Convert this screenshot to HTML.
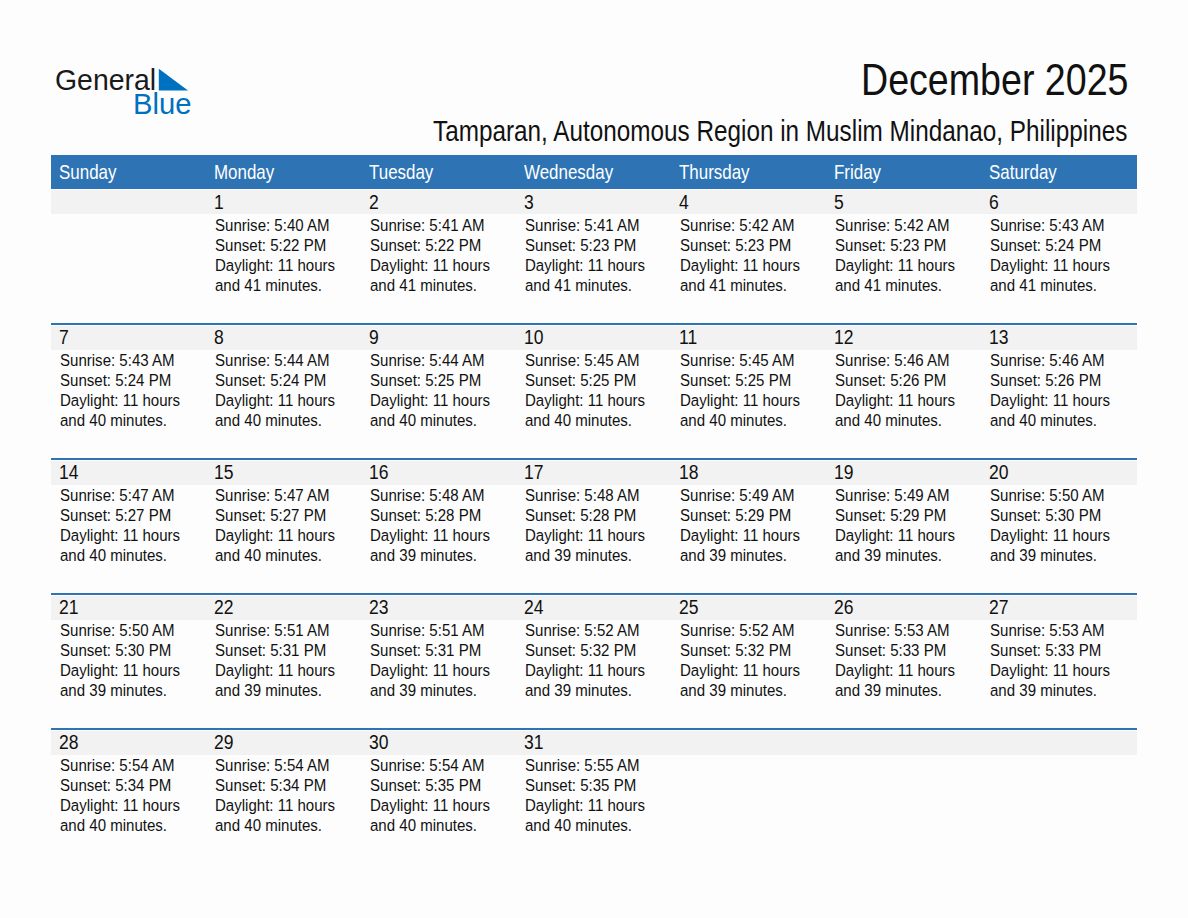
<!DOCTYPE html>
<html><head><meta charset="utf-8"><style>
html,body{margin:0;padding:0;}
body{width:1188px;height:918px;position:relative;overflow:hidden;background:#fdfdfd;font-family:"Liberation Sans",sans-serif;color:#111;}
.a{position:absolute;white-space:nowrap;line-height:1;transform-origin:0 0;}
.hd{font-size:20.3px;color:#fff;transform:scaleX(0.835);}
.num{font-size:19.5px;transform:scaleX(0.898);}
.tx{font-size:16.3px;transform:scaleX(0.9237);}
.r{position:absolute;}
</style></head><body>

<div class="a" style="left:55.25px;top:65.4px;font-size:29.5px;color:#1a1a1a;transform:scaleX(0.9636)">General</div>
<div class="a" style="left:132.9px;top:88.6px;font-size:29.5px;color:#0070c0;transform:scaleX(0.99)">Blue</div>
<svg class="r" style="left:0;top:0" width="1188" height="200"><polygon points="158.8,68.8 158.8,90.4 188,90.4" fill="#0070c0"/></svg>
<div class="a" style="left:861.1px;top:59.15549999999999px;font-size:43.5px;transform:scaleX(0.8642505747126435)">December 2025</div>
<div class="a" style="left:433.3px;top:116.60640000000001px;font-size:28.8px;transform:scaleX(0.8438888888888888)">Tamparan, Autonomous Region in Muslim Mindanao, Philippines</div>
<div class="r" style="left:51px;top:155px;width:1086px;height:34px;background:#2e74b5"></div>
<div class="a hd" style="left:59.20px;top:161.8px">Sunday</div>
<div class="a hd" style="left:214.20px;top:161.8px">Monday</div>
<div class="a hd" style="left:369.20px;top:161.8px">Tuesday</div>
<div class="a hd" style="left:524.20px;top:161.8px">Wednesday</div>
<div class="a hd" style="left:679.20px;top:161.8px">Thursday</div>
<div class="a hd" style="left:834.20px;top:161.8px">Friday</div>
<div class="a hd" style="left:989.20px;top:161.8px">Saturday</div>
<div class="r" style="left:51px;top:190px;width:1086px;height:24px;background:#f2f2f2"></div>
<div class="a num" style="left:214.20px;top:192.6px">1</div>
<div class="a tx" style="left:214.70px;top:216.7px">Sunrise: 5:40 AM</div>
<div class="a tx" style="left:214.70px;top:236.7px">Sunset: 5:22 PM</div>
<div class="a tx" style="left:214.70px;top:256.7px">Daylight: 11 hours</div>
<div class="a tx" style="left:214.70px;top:276.7px">and 41 minutes.</div>
<div class="a num" style="left:369.20px;top:192.6px">2</div>
<div class="a tx" style="left:369.70px;top:216.7px">Sunrise: 5:41 AM</div>
<div class="a tx" style="left:369.70px;top:236.7px">Sunset: 5:22 PM</div>
<div class="a tx" style="left:369.70px;top:256.7px">Daylight: 11 hours</div>
<div class="a tx" style="left:369.70px;top:276.7px">and 41 minutes.</div>
<div class="a num" style="left:524.20px;top:192.6px">3</div>
<div class="a tx" style="left:524.70px;top:216.7px">Sunrise: 5:41 AM</div>
<div class="a tx" style="left:524.70px;top:236.7px">Sunset: 5:23 PM</div>
<div class="a tx" style="left:524.70px;top:256.7px">Daylight: 11 hours</div>
<div class="a tx" style="left:524.70px;top:276.7px">and 41 minutes.</div>
<div class="a num" style="left:679.20px;top:192.6px">4</div>
<div class="a tx" style="left:679.70px;top:216.7px">Sunrise: 5:42 AM</div>
<div class="a tx" style="left:679.70px;top:236.7px">Sunset: 5:23 PM</div>
<div class="a tx" style="left:679.70px;top:256.7px">Daylight: 11 hours</div>
<div class="a tx" style="left:679.70px;top:276.7px">and 41 minutes.</div>
<div class="a num" style="left:834.20px;top:192.6px">5</div>
<div class="a tx" style="left:834.70px;top:216.7px">Sunrise: 5:42 AM</div>
<div class="a tx" style="left:834.70px;top:236.7px">Sunset: 5:23 PM</div>
<div class="a tx" style="left:834.70px;top:256.7px">Daylight: 11 hours</div>
<div class="a tx" style="left:834.70px;top:276.7px">and 41 minutes.</div>
<div class="a num" style="left:989.20px;top:192.6px">6</div>
<div class="a tx" style="left:989.70px;top:216.7px">Sunrise: 5:43 AM</div>
<div class="a tx" style="left:989.70px;top:236.7px">Sunset: 5:24 PM</div>
<div class="a tx" style="left:989.70px;top:256.7px">Daylight: 11 hours</div>
<div class="a tx" style="left:989.70px;top:276.7px">and 41 minutes.</div>
<div class="r" style="left:51px;top:323px;width:1086px;height:2px;background:#2e74b5"></div>
<div class="r" style="left:51px;top:326px;width:1086px;height:24px;background:#f2f2f2"></div>
<div class="a num" style="left:59.20px;top:327.6px">7</div>
<div class="a tx" style="left:59.70px;top:351.7px">Sunrise: 5:43 AM</div>
<div class="a tx" style="left:59.70px;top:371.7px">Sunset: 5:24 PM</div>
<div class="a tx" style="left:59.70px;top:391.7px">Daylight: 11 hours</div>
<div class="a tx" style="left:59.70px;top:411.7px">and 40 minutes.</div>
<div class="a num" style="left:214.20px;top:327.6px">8</div>
<div class="a tx" style="left:214.70px;top:351.7px">Sunrise: 5:44 AM</div>
<div class="a tx" style="left:214.70px;top:371.7px">Sunset: 5:24 PM</div>
<div class="a tx" style="left:214.70px;top:391.7px">Daylight: 11 hours</div>
<div class="a tx" style="left:214.70px;top:411.7px">and 40 minutes.</div>
<div class="a num" style="left:369.20px;top:327.6px">9</div>
<div class="a tx" style="left:369.70px;top:351.7px">Sunrise: 5:44 AM</div>
<div class="a tx" style="left:369.70px;top:371.7px">Sunset: 5:25 PM</div>
<div class="a tx" style="left:369.70px;top:391.7px">Daylight: 11 hours</div>
<div class="a tx" style="left:369.70px;top:411.7px">and 40 minutes.</div>
<div class="a num" style="left:524.20px;top:327.6px">10</div>
<div class="a tx" style="left:524.70px;top:351.7px">Sunrise: 5:45 AM</div>
<div class="a tx" style="left:524.70px;top:371.7px">Sunset: 5:25 PM</div>
<div class="a tx" style="left:524.70px;top:391.7px">Daylight: 11 hours</div>
<div class="a tx" style="left:524.70px;top:411.7px">and 40 minutes.</div>
<div class="a num" style="left:679.20px;top:327.6px">11</div>
<div class="a tx" style="left:679.70px;top:351.7px">Sunrise: 5:45 AM</div>
<div class="a tx" style="left:679.70px;top:371.7px">Sunset: 5:25 PM</div>
<div class="a tx" style="left:679.70px;top:391.7px">Daylight: 11 hours</div>
<div class="a tx" style="left:679.70px;top:411.7px">and 40 minutes.</div>
<div class="a num" style="left:834.20px;top:327.6px">12</div>
<div class="a tx" style="left:834.70px;top:351.7px">Sunrise: 5:46 AM</div>
<div class="a tx" style="left:834.70px;top:371.7px">Sunset: 5:26 PM</div>
<div class="a tx" style="left:834.70px;top:391.7px">Daylight: 11 hours</div>
<div class="a tx" style="left:834.70px;top:411.7px">and 40 minutes.</div>
<div class="a num" style="left:989.20px;top:327.6px">13</div>
<div class="a tx" style="left:989.70px;top:351.7px">Sunrise: 5:46 AM</div>
<div class="a tx" style="left:989.70px;top:371.7px">Sunset: 5:26 PM</div>
<div class="a tx" style="left:989.70px;top:391.7px">Daylight: 11 hours</div>
<div class="a tx" style="left:989.70px;top:411.7px">and 40 minutes.</div>
<div class="r" style="left:51px;top:458px;width:1086px;height:2px;background:#2e74b5"></div>
<div class="r" style="left:51px;top:461px;width:1086px;height:24px;background:#f2f2f2"></div>
<div class="a num" style="left:59.20px;top:462.6px">14</div>
<div class="a tx" style="left:59.70px;top:486.7px">Sunrise: 5:47 AM</div>
<div class="a tx" style="left:59.70px;top:506.7px">Sunset: 5:27 PM</div>
<div class="a tx" style="left:59.70px;top:526.7px">Daylight: 11 hours</div>
<div class="a tx" style="left:59.70px;top:546.7px">and 40 minutes.</div>
<div class="a num" style="left:214.20px;top:462.6px">15</div>
<div class="a tx" style="left:214.70px;top:486.7px">Sunrise: 5:47 AM</div>
<div class="a tx" style="left:214.70px;top:506.7px">Sunset: 5:27 PM</div>
<div class="a tx" style="left:214.70px;top:526.7px">Daylight: 11 hours</div>
<div class="a tx" style="left:214.70px;top:546.7px">and 40 minutes.</div>
<div class="a num" style="left:369.20px;top:462.6px">16</div>
<div class="a tx" style="left:369.70px;top:486.7px">Sunrise: 5:48 AM</div>
<div class="a tx" style="left:369.70px;top:506.7px">Sunset: 5:28 PM</div>
<div class="a tx" style="left:369.70px;top:526.7px">Daylight: 11 hours</div>
<div class="a tx" style="left:369.70px;top:546.7px">and 39 minutes.</div>
<div class="a num" style="left:524.20px;top:462.6px">17</div>
<div class="a tx" style="left:524.70px;top:486.7px">Sunrise: 5:48 AM</div>
<div class="a tx" style="left:524.70px;top:506.7px">Sunset: 5:28 PM</div>
<div class="a tx" style="left:524.70px;top:526.7px">Daylight: 11 hours</div>
<div class="a tx" style="left:524.70px;top:546.7px">and 39 minutes.</div>
<div class="a num" style="left:679.20px;top:462.6px">18</div>
<div class="a tx" style="left:679.70px;top:486.7px">Sunrise: 5:49 AM</div>
<div class="a tx" style="left:679.70px;top:506.7px">Sunset: 5:29 PM</div>
<div class="a tx" style="left:679.70px;top:526.7px">Daylight: 11 hours</div>
<div class="a tx" style="left:679.70px;top:546.7px">and 39 minutes.</div>
<div class="a num" style="left:834.20px;top:462.6px">19</div>
<div class="a tx" style="left:834.70px;top:486.7px">Sunrise: 5:49 AM</div>
<div class="a tx" style="left:834.70px;top:506.7px">Sunset: 5:29 PM</div>
<div class="a tx" style="left:834.70px;top:526.7px">Daylight: 11 hours</div>
<div class="a tx" style="left:834.70px;top:546.7px">and 39 minutes.</div>
<div class="a num" style="left:989.20px;top:462.6px">20</div>
<div class="a tx" style="left:989.70px;top:486.7px">Sunrise: 5:50 AM</div>
<div class="a tx" style="left:989.70px;top:506.7px">Sunset: 5:30 PM</div>
<div class="a tx" style="left:989.70px;top:526.7px">Daylight: 11 hours</div>
<div class="a tx" style="left:989.70px;top:546.7px">and 39 minutes.</div>
<div class="r" style="left:51px;top:593px;width:1086px;height:2px;background:#2e74b5"></div>
<div class="r" style="left:51px;top:596px;width:1086px;height:24px;background:#f2f2f2"></div>
<div class="a num" style="left:59.20px;top:597.6px">21</div>
<div class="a tx" style="left:59.70px;top:621.7px">Sunrise: 5:50 AM</div>
<div class="a tx" style="left:59.70px;top:641.7px">Sunset: 5:30 PM</div>
<div class="a tx" style="left:59.70px;top:661.7px">Daylight: 11 hours</div>
<div class="a tx" style="left:59.70px;top:681.7px">and 39 minutes.</div>
<div class="a num" style="left:214.20px;top:597.6px">22</div>
<div class="a tx" style="left:214.70px;top:621.7px">Sunrise: 5:51 AM</div>
<div class="a tx" style="left:214.70px;top:641.7px">Sunset: 5:31 PM</div>
<div class="a tx" style="left:214.70px;top:661.7px">Daylight: 11 hours</div>
<div class="a tx" style="left:214.70px;top:681.7px">and 39 minutes.</div>
<div class="a num" style="left:369.20px;top:597.6px">23</div>
<div class="a tx" style="left:369.70px;top:621.7px">Sunrise: 5:51 AM</div>
<div class="a tx" style="left:369.70px;top:641.7px">Sunset: 5:31 PM</div>
<div class="a tx" style="left:369.70px;top:661.7px">Daylight: 11 hours</div>
<div class="a tx" style="left:369.70px;top:681.7px">and 39 minutes.</div>
<div class="a num" style="left:524.20px;top:597.6px">24</div>
<div class="a tx" style="left:524.70px;top:621.7px">Sunrise: 5:52 AM</div>
<div class="a tx" style="left:524.70px;top:641.7px">Sunset: 5:32 PM</div>
<div class="a tx" style="left:524.70px;top:661.7px">Daylight: 11 hours</div>
<div class="a tx" style="left:524.70px;top:681.7px">and 39 minutes.</div>
<div class="a num" style="left:679.20px;top:597.6px">25</div>
<div class="a tx" style="left:679.70px;top:621.7px">Sunrise: 5:52 AM</div>
<div class="a tx" style="left:679.70px;top:641.7px">Sunset: 5:32 PM</div>
<div class="a tx" style="left:679.70px;top:661.7px">Daylight: 11 hours</div>
<div class="a tx" style="left:679.70px;top:681.7px">and 39 minutes.</div>
<div class="a num" style="left:834.20px;top:597.6px">26</div>
<div class="a tx" style="left:834.70px;top:621.7px">Sunrise: 5:53 AM</div>
<div class="a tx" style="left:834.70px;top:641.7px">Sunset: 5:33 PM</div>
<div class="a tx" style="left:834.70px;top:661.7px">Daylight: 11 hours</div>
<div class="a tx" style="left:834.70px;top:681.7px">and 39 minutes.</div>
<div class="a num" style="left:989.20px;top:597.6px">27</div>
<div class="a tx" style="left:989.70px;top:621.7px">Sunrise: 5:53 AM</div>
<div class="a tx" style="left:989.70px;top:641.7px">Sunset: 5:33 PM</div>
<div class="a tx" style="left:989.70px;top:661.7px">Daylight: 11 hours</div>
<div class="a tx" style="left:989.70px;top:681.7px">and 39 minutes.</div>
<div class="r" style="left:51px;top:728px;width:1086px;height:2px;background:#2e74b5"></div>
<div class="r" style="left:51px;top:731px;width:1086px;height:24px;background:#f2f2f2"></div>
<div class="a num" style="left:59.20px;top:732.6px">28</div>
<div class="a tx" style="left:59.70px;top:756.7px">Sunrise: 5:54 AM</div>
<div class="a tx" style="left:59.70px;top:776.7px">Sunset: 5:34 PM</div>
<div class="a tx" style="left:59.70px;top:796.7px">Daylight: 11 hours</div>
<div class="a tx" style="left:59.70px;top:816.7px">and 40 minutes.</div>
<div class="a num" style="left:214.20px;top:732.6px">29</div>
<div class="a tx" style="left:214.70px;top:756.7px">Sunrise: 5:54 AM</div>
<div class="a tx" style="left:214.70px;top:776.7px">Sunset: 5:34 PM</div>
<div class="a tx" style="left:214.70px;top:796.7px">Daylight: 11 hours</div>
<div class="a tx" style="left:214.70px;top:816.7px">and 40 minutes.</div>
<div class="a num" style="left:369.20px;top:732.6px">30</div>
<div class="a tx" style="left:369.70px;top:756.7px">Sunrise: 5:54 AM</div>
<div class="a tx" style="left:369.70px;top:776.7px">Sunset: 5:35 PM</div>
<div class="a tx" style="left:369.70px;top:796.7px">Daylight: 11 hours</div>
<div class="a tx" style="left:369.70px;top:816.7px">and 40 minutes.</div>
<div class="a num" style="left:524.20px;top:732.6px">31</div>
<div class="a tx" style="left:524.70px;top:756.7px">Sunrise: 5:55 AM</div>
<div class="a tx" style="left:524.70px;top:776.7px">Sunset: 5:35 PM</div>
<div class="a tx" style="left:524.70px;top:796.7px">Daylight: 11 hours</div>
<div class="a tx" style="left:524.70px;top:816.7px">and 40 minutes.</div>
</body></html>
